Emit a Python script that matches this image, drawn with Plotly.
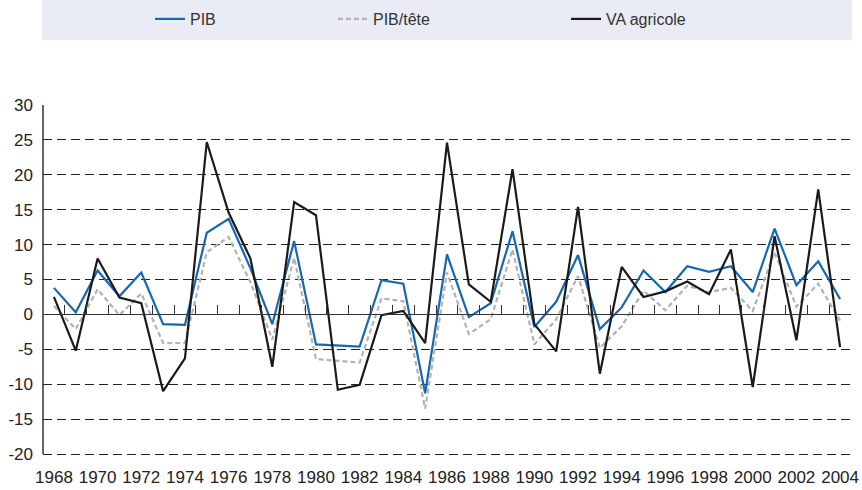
import plotly.graph_objects as go

years = list(range(1968, 2005))

pib = [3.8, 0.3, 6.3, 2.6, 6.0, -1.4, -1.5, 11.7, 13.7, 6.6, -1.4, 10.5,
       -4.3, -4.4, -4.6, 4.9, 4.4, -11.3, 8.6, -0.4, 1.6, 11.9, -1.8, 1.8,
       8.5, -2.1, 1.0, 6.3, 3.2, 6.9, 6.1, 6.9, 3.2, 12.3, 4.2, 7.6, 2.2]

pib_tete = [1.2, -2.1, 3.6, -0.1, 3.0, -4.1, -4.1, 8.9, 11.1, 4.6, -3.6, 8.1,
            -6.4, -6.7, -6.9, 2.3, 1.9, -13.5, 6.0, -2.8, -0.7, 9.3, -4.3, -0.7,
            5.5, -4.8, -1.7, 3.4, 0.6, 4.1, 3.2, 3.8, 0.5, 8.9, 1.1, 4.4, -0.9]

va_agricole = [2.5, -5.2, 8.0, 2.4, 1.6, -11.0, -6.3, 24.7, 14.6, 8.0, -7.5, 16.1,
               14.2, -10.8, -10.1, -0.1, 0.5, -4.1, 24.6, 4.3, 1.8, 20.8, -1.4, -5.3,
               15.4, -8.5, 6.8, 2.5, 3.3, 4.7, 2.9, 9.3, -10.4, 11.2, -3.7, 17.9, -4.7]

y_tick_vals = [30, 25, 20, 15, 10, 5, 0, -5, -10, -15, -20]
y_tick_text = ["30", "25", "20", "15", "10", "5", "0", "-5", "-10", "-15", "-20"]
x_tick_vals = list(range(1968, 2005, 2))
x_tick_text = [str(y) for y in x_tick_vals]

W, H = 862, 490
ML, MR, MT, MB = 43, 11, 105, 33
PW = W - ML - MR
PH = H - MT - MB

def px_x(p):
    return (p - ML) / PW

def px_y(p):
    return 1 + (MT - p) / PH

font_main = "Liberation Sans, Arial, Helvetica, sans-serif"
font_leg = "Liberation Sans, Arial, sans-serif"

fig = go.Figure()

fig.add_trace(go.Scatter(x=years, y=pib, name="PIB", mode="lines",
                         line=dict(color="#1768b0", width=2.2), legend="legend"))
fig.add_trace(go.Scatter(x=years, y=pib_tete, name="PIB/tête", mode="lines",
                         line=dict(color="#b3b3b3", width=2.2, dash="5px,3px"), legend="legend2"))
fig.add_trace(go.Scatter(x=years, y=va_agricole, name="VA agricole", mode="lines",
                         line=dict(color="#1a1a1a", width=2.2), legend="legend3"))
# invisible helper trace to carry the zero-line tick axis
fig.add_trace(go.Scatter(x=[years[0]], y=[0], mode="lines", xaxis="x2",
                         showlegend=False, hoverinfo="skip", opacity=0))

xr = [1967.5, 2004.5]
# 3 extra px below -20 so that its gridline is not clipped at the edge
yr = [-20 - 3 * 50 / 349, 30]

fig.update_layout(
    width=W, height=H,
    margin=dict(l=ML, r=MR, t=MT, b=MB, autoexpand=False),
    paper_bgcolor="white", plot_bgcolor="white",
    font=dict(family=font_main, size=17, color="#222222"),
    xaxis=dict(range=xr, tickvals=x_tick_vals, ticktext=x_tick_text,
               showgrid=False, zeroline=False, showline=False, ticks="",
               automargin=False, ticklabelstandoff=8,
               tickfont=dict(size=17, color="#222222")),
    xaxis2=dict(range=xr, overlaying="x", anchor="free",
                position=(0 - yr[0]) / (yr[1] - yr[0]), side="bottom",
                tickvals=[1967.5 + k for k in range(38)], ticks="inside", ticklen=9,
                tickwidth=1, tickcolor="#333333", showticklabels=False,
                showline=True, linecolor="#333333", linewidth=1,
                showgrid=False, zeroline=False, automargin=False),
    yaxis=dict(range=yr, tickvals=y_tick_vals, ticktext=y_tick_text,
               showgrid=True, gridcolor="#222222", gridwidth=1, griddash="9px,5px",
               zeroline=False, showline=False,
               ticks="", automargin=False, ticklabelstandoff=9,
               tickfont=dict(size=17, color="#222222")),
    shapes=[dict(type="rect", xref="paper", yref="paper",
                 x0=px_x(42), x1=px_x(852), y0=px_y(40), y1=px_y(0),
                 fillcolor="#e9ecf4", line=dict(width=0), layer="below"),
            dict(type="line", xref="paper", yref="y", x0=0, x1=0, y0=-20, y1=30,
                 line=dict(color="#333333", width=1.5), layer="above")],
)

leg_common = dict(orientation="h", yanchor="middle", xanchor="left",
                  bgcolor="rgba(0,0,0,0)", font=dict(family=font_leg, size=16, color="#333333"))
fig.update_layout(
    legend=dict(x=px_x(150), y=px_y(19), **leg_common),
    legend2=dict(x=px_x(333), y=px_y(19), **leg_common),
    legend3=dict(x=px_x(566), y=px_y(19), **leg_common),
)

fig.write_html("out.html", config={"displayModeBar": False},
               post_script="document.body.style.margin='0px';")
